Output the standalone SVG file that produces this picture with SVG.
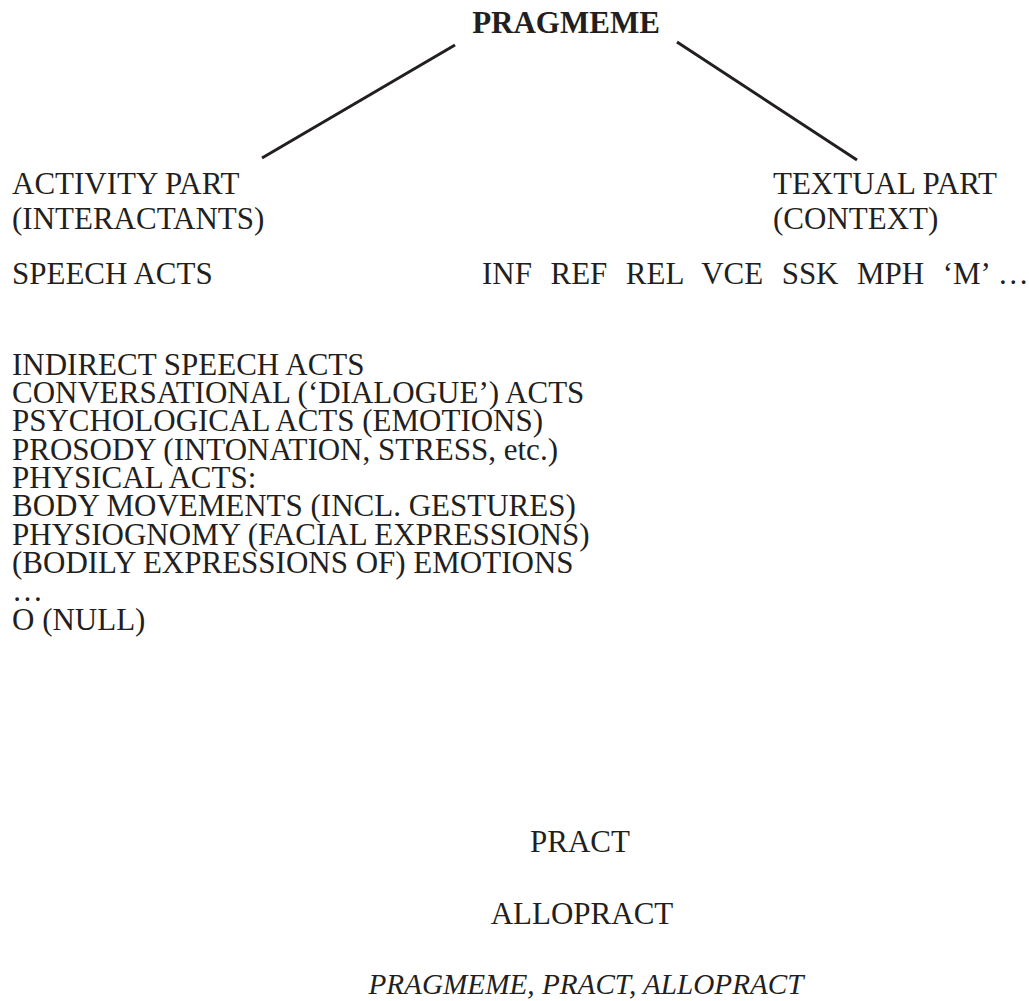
<svg xmlns="http://www.w3.org/2000/svg" width="1029" height="1001" viewBox="0 0 1029 1001">
<style>
text{font-family:"Liberation Serif","Times New Roman",serif;font-size:31px;fill:#231f20;white-space:pre}
.b{font-weight:bold}
.c{text-anchor:middle}
.i{font-style:italic;font-size:29.2px}
.ln{stroke:#231f20;stroke-width:3;fill:none}
</style>
<rect width="1029" height="1001" fill="#fff"/>
<g id="pragmeme"><text class="b c" x="566" y="33">PRAGMEME</text></g>
<g id="connectors">
<line class="ln" x1="455" y1="45" x2="262" y2="158"/>
<line class="ln" x1="677" y1="42" x2="857" y2="160"/>
</g>
<g id="activity">
<text x="12" y="194">ACTIVITY PART</text>
<text x="12" y="229">(INTERACTANTS)</text>
</g>
<g id="textual">
<text x="773" y="194">TEXTUAL PART</text>
<text x="773" y="229">(CONTEXT)</text>
</g>
<g id="speechacts"><text x="12" y="284">SPEECH ACTS</text></g>
<g id="textual-list"><text x="482" y="284" style="word-spacing:1.5px">INF  REF  REL  VCE  SSK  MPH  ‘M’ …</text></g>
<g id="activity-list">
<text x="12" y="375">INDIRECT SPEECH ACTS</text>
<text x="12" y="403">CONVERSATIONAL (‘DIALOGUE’) ACTS</text>
<text x="12" y="431">PSYCHOLOGICAL ACTS (EMOTIONS)</text>
<text x="12" y="460">PROSODY (INTONATION, STRESS, etc.)</text>
<text x="12" y="488">PHYSICAL ACTS:</text>
<text x="12" y="516">BODY MOVEMENTS (INCL. GESTURES)</text>
<text x="12" y="545">PHYSIOGNOMY (FACIAL EXPRESSIONS)</text>
<text x="12" y="573">(BODILY EXPRESSIONS OF) EMOTIONS</text>
<text x="12" y="601">…</text>
<text x="12" y="630">O (NULL)</text>
</g>
<g id="pract"><text class="c" x="580" y="852">PRACT</text></g>
<g id="allopract"><text class="c" x="582" y="924">ALLOPRACT</text></g>
<g id="caption"><text class="c i" x="586" y="994">PRAGMEME, PRACT, ALLOPRACT</text></g>
</svg>
